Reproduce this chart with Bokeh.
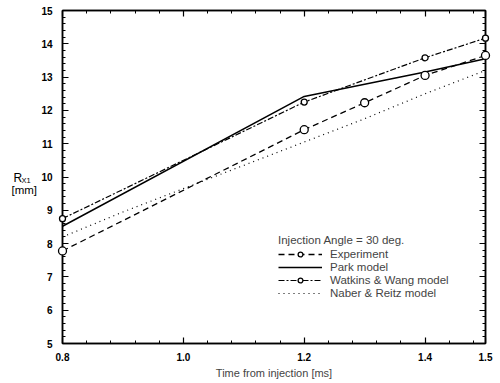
from bokeh.plotting import figure
from bokeh.layouts import row
from bokeh.models import (LinearAxis, FixedTicker, Legend, LegendItem, Range1d,
                          PrintfTickFormatter)
from bokeh.core.properties import value
from bokeh.embed import file_html
from bokeh.resources import INLINE

# ---- data ----
t_exp = [0.8, 1.2, 1.3, 1.4, 1.5]
r_exp = [7.78, 11.42, 12.23, 13.05, 13.65]
t_park = [0.8, 1.2, 1.4, 1.5]
r_park = [8.52, 12.42, 13.15, 13.55]
t_ww = [0.8, 1.2, 1.4, 1.5]
r_ww = [8.75, 12.25, 13.58, 14.17]
t_nr = [0.8, 0.9, 1.0, 1.1, 1.2, 1.3, 1.4, 1.5]
r_nr = [8.2, 8.95, 9.65, 10.35, 11.05, 11.75, 12.5, 13.2]
x_ticks = [0.8, 1.0, 1.2, 1.4, 1.5]
y_ticks = [5, 6, 7, 8, 9, 10, 11, 12, 13, 14, 15]

FONT = "Liberation Sans"

p = figure(width=462, height=383, output_backend="svg", toolbar_location=None,
           x_range=Range1d(0.8, 1.5), y_range=Range1d(5, 15),
           min_border_left=24, min_border_right=15, min_border_top=10, min_border_bottom=40,
           x_axis_location="below", y_axis_location="left")
p.xgrid.visible = False
p.ygrid.visible = False
p.outline_line_color = "black"
p.outline_line_width = 1.5
p.background_fill_color = "white"
p.border_fill_color = "white"

x_minor = [round(0.8 + 0.04 * i, 2) for i in range(18)]
y_minor = [round(5 + 0.2 * i, 1) for i in range(51)]
xt = FixedTicker(ticks=x_ticks, minor_ticks=x_minor)
yt = FixedTicker(ticks=y_ticks, minor_ticks=y_minor)

def style(ax, labels=True):
    ax.axis_line_color = "black"
    ax.axis_line_width = 1.5
    ax.major_tick_in = 6
    ax.major_tick_out = 0
    ax.minor_tick_in = 3
    ax.minor_tick_out = 0
    ax.major_tick_line_width = 1.2
    ax.minor_tick_line_width = 1
    ax.major_label_text_font = FONT
    ax.major_label_text_font_style = "bold"
    ax.major_label_text_font_size = "10px"
    ax.major_label_text_color = "black" if labels else None

p.xaxis.ticker = xt
p.yaxis.ticker = yt
p.xaxis.formatter = PrintfTickFormatter(format="%.1f")
p.yaxis.formatter = PrintfTickFormatter(format="%d")
style(p.xaxis[0])
style(p.yaxis[0])
p.xaxis.major_label_standoff = 9
p.yaxis.major_label_standoff = 10
p.xaxis.axis_label = "Time from injection [ms]"
p.xaxis.axis_label_text_font = FONT
p.xaxis.axis_label_text_font_style = "normal"
p.xaxis.axis_label_text_font_size = "11px"
p.xaxis.axis_label_standoff = 3

top = LinearAxis(ticker=FixedTicker(ticks=x_ticks, minor_ticks=x_minor))
style(top, labels=False)
top.major_label_text_font_size = "0px"
p.add_layout(top, "above")
right = LinearAxis(ticker=FixedTicker(ticks=y_ticks, minor_ticks=y_minor))
style(right, labels=False)
right.major_label_text_font_size = "0px"
p.add_layout(right, "right")

# ---- series ----
l_exp = p.line(t_exp, r_exp, line_color="black", line_width=1.3, line_dash="6 4")
m_exp = p.scatter(t_exp, r_exp, marker="circle", size=8, fill_color="white",
                  line_color="black", line_width=1.3, level="overlay")
l_park = p.line(t_park, r_park, line_color="black", line_width=1.5)
l_ww = p.line(t_ww, r_ww, line_color="black", line_width=1.2, line_dash="6 2 2 2")
m_ww = p.scatter(t_ww, r_ww, marker="circle", size=6, fill_color="white",
                 line_color="black", line_width=1.3, level="overlay")
l_nr = p.line(t_nr, r_nr, line_color="black", line_width=1.2, line_dash="1 4")

legend = Legend(items=[
    LegendItem(label="Experiment", renderers=[l_exp, m_exp]),
    LegendItem(label="Park model", renderers=[l_park]),
    LegendItem(label="Watkins & Wang model", renderers=[l_ww, m_ww]),
    LegendItem(label="Naber & Reitz model", renderers=[l_nr]),
], location=(216, 44), title="Injection Angle = 30 deg.")
legend.title_text_font = FONT
legend.title_text_font_size = "11.5px"
legend.title_text_font_style = "normal"
legend.title_standoff = 2
legend.label_text_font = FONT
legend.label_text_font_size = "11.5px"
legend.label_height = 12
legend.glyph_height = 12
legend.glyph_width = 44
legend.label_standoff = 8
legend.spacing = 1
legend.padding = 0
legend.margin = 0
legend.border_line_color = None
legend.background_fill_alpha = 0
p.add_layout(legend, "center")

# ---- y-axis label R_X1 [mm] in a narrow side panel (pixel coordinates) ----
side = figure(width=38, height=383, output_backend="svg", toolbar_location=None,
              x_range=Range1d(0, 38), y_range=Range1d(383, 0),
              x_axis_location=None, y_axis_location=None, min_border=0)
side.xgrid.visible = False
side.ygrid.visible = False
side.outline_line_color = None
side.background_fill_color = "white"
side.border_fill_color = "white"
side.text(x=[13], y=[193], text=["R"], text_font=value(FONT), text_font_size="12px",
          text_align="left", text_baseline="alphabetic", text_color="black")
side.text(x=[21], y=[196], text=["X1"], text_font=value(FONT), text_font_size="7.5px",
          text_align="left", text_baseline="alphabetic", text_color="black")
side.text(x=[11], y=[207], text=["[mm]"], text_font=value(FONT), text_font_size="11.5px",
          text_align="left", text_baseline="alphabetic", text_color="black")

layout = row(side, p, spacing=0)
open("out.html", "w").write(file_html(layout, INLINE))
